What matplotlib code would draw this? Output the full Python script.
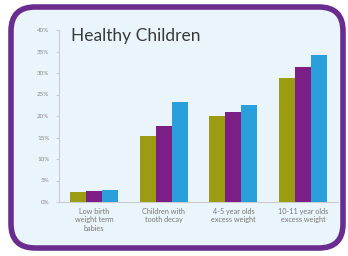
import matplotlib
matplotlib.use("Agg")
import matplotlib.pyplot as plt
import numpy as np
from matplotlib.patches import FancyBboxPatch

categories = ["Low birth\nweight term\nbabies", "Children with\ntooth decay",
              "4-5 year olds\nexcess weight", "10-11 year olds\nexcess weight"]
series_a = [2.4, 15.3, 19.9, 28.8]
series_b = [2.5, 17.7, 20.9, 31.4]
series_c = [2.7, 23.2, 22.6, 34.3]
colors = ["#9c9c12", "#7b1f86", "#2a9fdc"]
yticks = [0, 5, 10, 15, 20, 25, 30, 35, 40]

W, H = 348, 256
fig = plt.figure(figsize=(W / 100, H / 100), dpi=100, facecolor="white")

bg = fig.add_axes([0, 0, 1, 1])
bg.set_xlim(0, W)
bg.set_ylim(0, H)
bg.axis("off")
frame = FancyBboxPatch((11, 8), 332, 241, boxstyle="round,pad=0,rounding_size=24",
                       facecolor="#eaf5fb", edgecolor="#6a2c8e", linewidth=4)
bg.add_patch(frame)

ax = fig.add_axes([59 / W, 1 - 202 / H, (338 - 59) / W, (202 - 30) / H])
ax.set_facecolor("none")
x = np.arange(len(categories))
bw = 0.23
for i, (vals, c) in enumerate(zip([series_a, series_b, series_c], colors)):
    ax.bar(x + (i - 1) * bw, vals, width=bw, color=c, zorder=3)

ax.set_xlim(-0.5, len(categories) - 0.5)
ax.set_ylim(0, 40)
ax.set_yticks(yticks)
ax.set_yticklabels([f"{v}%" for v in yticks], fontsize=4.5, color="#888888", family="Lato")
ax.set_xticks(x)
ax.set_xticklabels(categories, fontsize=5.2, color="#777777", family="Lato", linespacing=1.3)
for s in ["top", "right"]:
    ax.spines[s].set_visible(False)
for s in ["left", "bottom"]:
    ax.spines[s].set_color("#cccccc")
    ax.spines[s].set_linewidth(0.8)
ax.tick_params(axis="y", length=2, color="#cccccc", pad=5)
ax.tick_params(axis="x", length=0, pad=4)

fig.text(71 / W, 1 - 36 / H, "Healthy Children", fontsize=12.5, color="#3a3a3a",
         family="Lato", va="center", ha="left")

fig.savefig("out.png", dpi=100, facecolor="white")
